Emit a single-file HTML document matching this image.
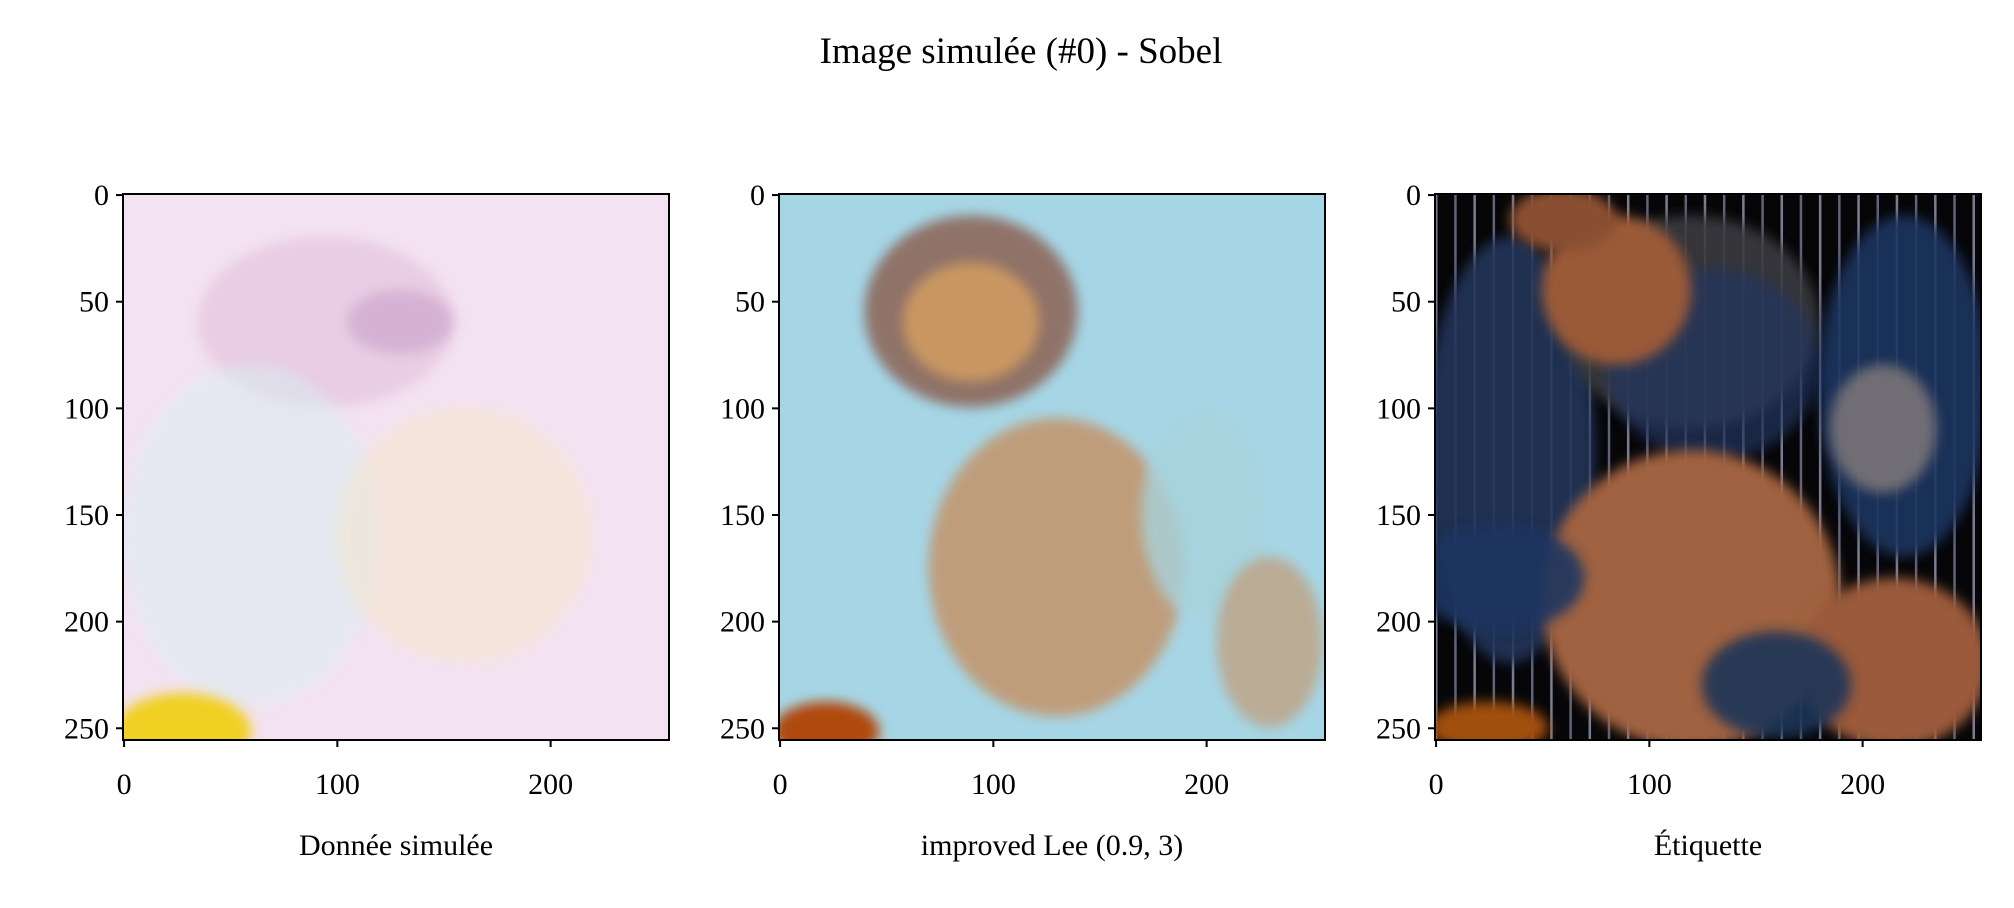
<!DOCTYPE html>
<html><head><meta charset="utf-8">
<style>
html,body{margin:0;padding:0;background:#fff;}
body{width:2014px;height:903px;overflow:hidden;font-family:"Liberation Serif",serif;}
</style></head>
<body>
<svg id="fig" width="2014" height="903" viewBox="0 0 2014 903" xmlns="http://www.w3.org/2000/svg">
<defs>
 <filter id="soft" x="-20%" y="-20%" width="140%" height="140%"><feGaussianBlur stdDeviation="6"/></filter>
 <clipPath id="c0"><rect x="123" y="194" width="546" height="546"/></clipPath>
 <clipPath id="c1"><rect x="779" y="194" width="546" height="546"/></clipPath>
 <clipPath id="c2"><rect x="1435" y="194" width="546" height="546"/></clipPath>
</defs>
<text x="1021" y="63" font-size="37" text-anchor="middle" font-family="Liberation Serif, serif">Image simulée (#0) - Sobel</text>
<g id="panels"></g>
</svg>
<script>
const ticks=[0,100,200];
const yticks=[0,50,100,150,200,250];
const titles=["Donnée simulée","improved Lee (0.9, 3)","Étiquette"];
const panelX=[123,779,1435];
// blobs: [panel, cx, cy, rx, ry, color, opacity] in image pixel units (0-256)
const blobs=[
 [0,95,60,60,40,"#e2c0dc",0.6],
 [0,130,60,25,15,"#c9a0c8",0.6],
 [0,60,160,60,80,"#d8eef2",0.5],
 [0,160,160,60,60,"#f5e6c8",0.5],
 [0,28,252,32,18,"#f0d020",1],
 [1,90,55,50,45,"#8a5a4a",0.8],
 [1,90,60,32,28,"#d8a060",0.8],
 [1,130,175,60,70,"#c88a58",0.75],
 [1,200,150,30,50,"#a7d3dd",0.8],
 [1,230,210,25,40,"#c89060",0.6],
 [1,22,252,25,14,"#b04a10",1],
 [2,35,120,40,100,"#20345a",0.9],
 [2,120,60,60,50,"#3a3a40",0.9],
 [2,130,80,50,45,"#20365e",0.7],
 [2,220,90,40,80,"#1e3560",0.9],
 [2,210,110,25,30,"#7a7478",0.9],
 [2,85,45,35,35,"#9a5a38",1],
 [2,60,12,25,15,"#8a5030",1],
 [2,120,190,70,70,"#a06240",1],
 [2,215,220,45,40,"#9a5a3a",1],
 [2,30,180,40,25,"#1e3660",0.9],
 [2,160,230,35,25,"#1e3458",0.9],
 [2,25,250,28,12,"#a05010",1]
];
const S=546/256;
const NS="http://www.w3.org/2000/svg";
const root=document.getElementById('panels');
function mk(t,a,p){const e=document.createElementNS(NS,t);for(const k in a)e.setAttribute(k,a[k]);(p||root).appendChild(e);return e;}
const bg=["#f3e2f1","#a6d6e6","#060608"];
for(let p=0;p<3;p++){
 const x0=panelX[p],y0=194;
 const sx=v=>x0+v*S, sy=v=>y0+v*S;
 const g=mk('g',{'clip-path':'url(#c'+p+')'});
 
 
 mk('rect',{x:x0,y:y0,width:546,height:546,fill:bg[p]},g);
 if(p===2){
  for(let i=0;i<256;i+=9){
   const r=mk('rect',{x:sx(i),y:y0,width:2.5,height:546,fill:(i%18?"#8a8aa8":"#b0b0cc"),opacity:0.7},g);
   
   
  }
 }
 blobs.filter(b=>b[0]===p).forEach(b=>{
  const e=mk('ellipse',{cx:sx(b[1]),cy:sy(b[2]),rx:b[3]*S,ry:b[4]*S,fill:b[5],opacity:b[6],filter:'url(#soft)'},g);
  
  
 });
 const fr=mk('rect',{x:x0,y:y0,width:546,height:546,fill:'none',stroke:'#000','stroke-width':2});
 
 
 ticks.forEach(t=>{
  const X=sx(t+0.5);
  mk('line',{x1:X,x2:X,y1:y0+546,y2:y0+553,stroke:'#000','stroke-width':2});
  const tx=mk('text',{x:X,y:794,'font-size':30,'text-anchor':'middle'});
  tx.textContent=t;
  
  
 });
 yticks.forEach(t=>{
  const Y=sy(t+0.5);
  mk('line',{x1:x0-7,x2:x0,y1:Y,y2:Y,stroke:'#000','stroke-width':2});
  const tx=mk('text',{x:x0-14,y:Y+10,'font-size':30,'text-anchor':'end'});
  tx.textContent=t;
  
  
 });
 const xl=mk('text',{x:x0+273,y:855,'font-size':30,'text-anchor':'middle'});
 xl.textContent=titles[p];
 
 
}
</script>
</body></html>
